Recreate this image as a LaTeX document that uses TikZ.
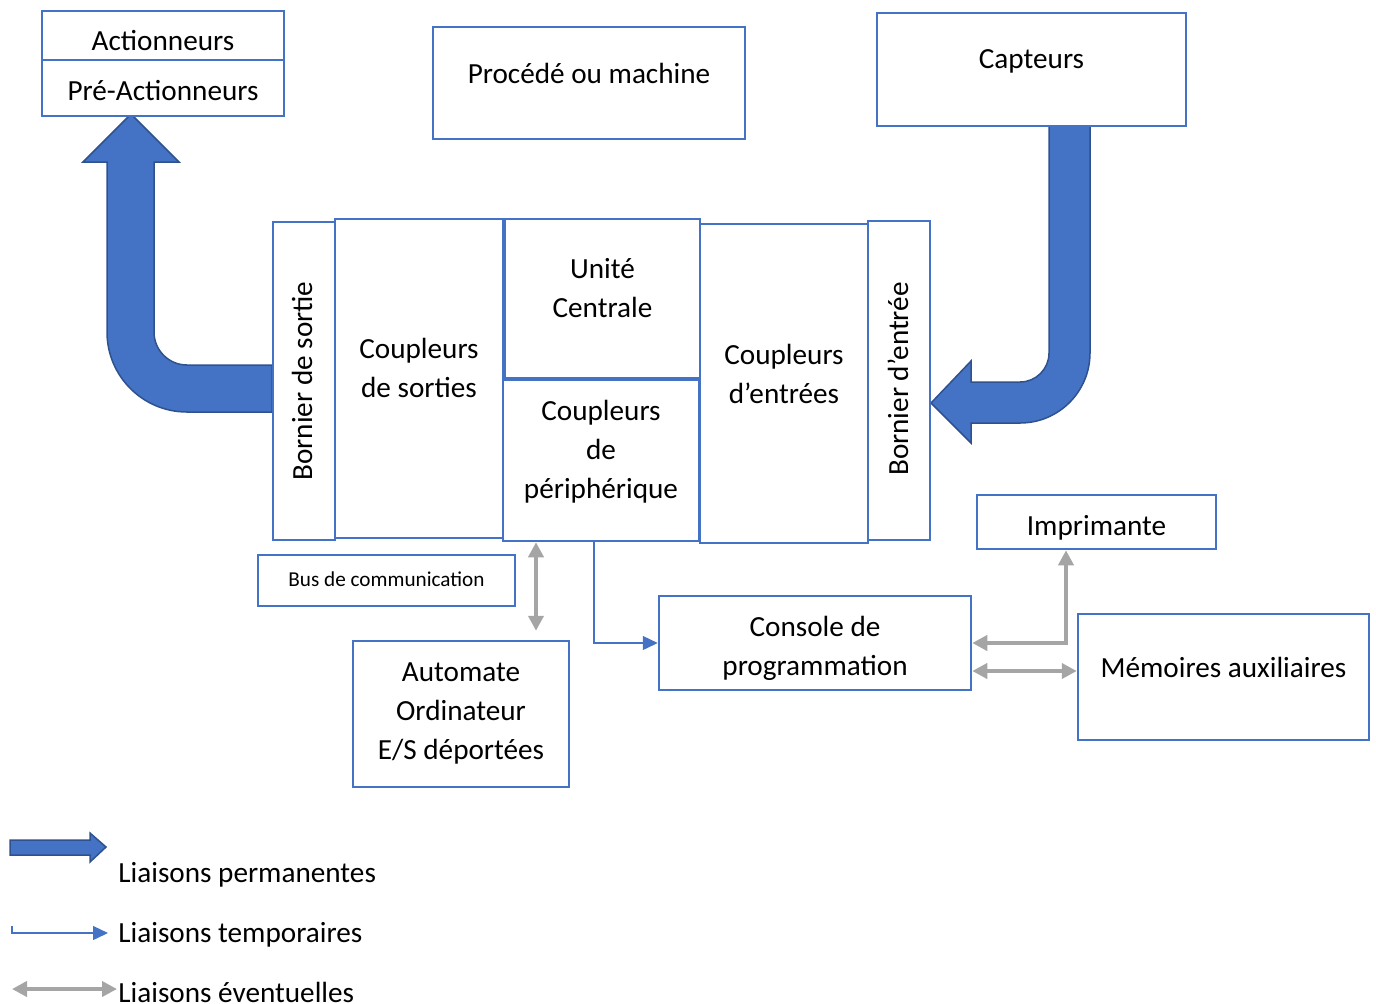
\documentclass[tikz,border=0pt]{standalone}
\usepackage{fontspec}
\setmainfont{Carlito}
\usetikzlibrary{arrows.meta}

\definecolor{accent}{HTML}{4472C4}
\definecolor{accentdark}{HTML}{2F528F}
\definecolor{linkgray}{HTML}{A5A5A5}

\tikzset{
  box/.style={draw=accent, line width=1.25pt, inner sep=0pt, fill=white},
  lbl/.style={font=\fontsize{14.6pt}{19.5pt}\selectfont, align=center, inner sep=0pt},
  small/.style={font=\fontsize{10.6pt}{13pt}\selectfont, inner sep=0pt},
  bigarrow/.style={fill=accent, draw=accentdark, line width=0.75pt, line join=miter},
  tempo/.style={draw=accent, line width=0.65pt, -{Triangle[width=7pt,length=7.5pt]}, color=accent},
  eventual/.style={draw=linkgray, line width=2.4pt, {Triangle[width=7.5pt,length=7.5pt]}-{Triangle[width=7.5pt,length=7.5pt]}}
}

\begin{document}
\begin{tikzpicture}[x=0.5pt, y=0.5pt]
\useasboundingbox (0,0) rectangle (1376,-1003);

% permanent links (drawn first, boxes on top)
\path[bigarrow] (272,-365) -- (187,-365) arc[start angle=270, end angle=180, radius=33]
  -- (154,-162) -- (179,-162) -- (131,-114) -- (83,-162) -- (107,-162) -- (107,-332)
  arc[start angle=180, end angle=270, radius=80] -- (272,-412) -- cycle;
\path[bigarrow] (1049,-126) -- (1049,-353) arc[start angle=0, end angle=-90, radius=29]
  -- (971,-382) -- (971,-361) -- (931,-403) -- (971,-443) -- (971,-423) -- (1020,-423)
  arc[start angle=-90, end angle=0, radius=70] -- (1090,-126) -- cycle;

% top row
\node[box, minimum width=121pt, minimum height=24.5pt] (act) at (163,-35.5) {};
\node[lbl] (act-t) at (163,-41) {Actionneurs};
\node[box, minimum width=121pt, minimum height=28pt] (pre) at (163,-88) {};
\node[lbl] (pre-t) at (163,-91) {Pré-Actionneurs};
\node[box, minimum width=156pt, minimum height=56pt] (proc) at (589,-83) {};
\node[lbl] (proc-t) at (589,-73) {Procédé ou machine};
\node[box, minimum width=154.5pt, minimum height=56.5pt] (cap) at (1031.5,-69.5) {};
\node[lbl] (cap-t) at (1031.5,-61) {Capteurs};

% automate
\node[box, minimum width=31pt, minimum height=159pt] (bs) at (304,-381) {};
\node[lbl, rotate=90] (bs-t) at (302,-381) {Bornier de sortie};
\node[box, minimum width=84pt, minimum height=159.5pt] (cs) at (419,-378.5) {};
\node[lbl] (cs-t) at (419,-367.5) {Coupleurs\\de sorties};
\node[box, minimum width=97.5pt, minimum height=79.5pt] (uc) at (602.5,-298.5) {};
\node[lbl] (uc-t) at (602.5,-288.5) {Unité\\Centrale};
\node[box, minimum width=98pt, minimum height=80.5pt] (cp) at (601,-460.5) {};
\node[lbl] (cp-t) at (601,-452) {Coupleurs\\de\\périphérique};
\node[box, minimum width=84pt, minimum height=159.5pt] (ce) at (784,-383.5) {};
\node[lbl] (ce-t) at (784,-373.5) {Coupleurs\\d’entrées};
\node[box, minimum width=31pt, minimum height=159.5pt] (be) at (899,-380.5) {};
\node[lbl, rotate=90] (be-t) at (898,-379) {Bornier d’entrée};

% peripherals
\node[box, minimum width=119.5pt, minimum height=27pt] (imp) at (1096.5,-522) {};
\node[lbl] (imp-t) at (1096.5,-528) {Imprimante};
\node[box, minimum width=128.5pt, minimum height=25.5pt] (bus) at (386.5,-580.5) {};
\node[small] (bus-t) at (386.5,-579) {Bus de communication};
\node[box, minimum width=108pt, minimum height=73pt] (aut) at (461,-714) {};
\node[lbl] (aut-t) at (461,-713.5) {Automate\\Ordinateur\\E/S déportées};
\node[box, minimum width=156pt, minimum height=47pt] (con) at (815,-643) {};
\node[lbl] (con-t) at (815,-648) {Console de\\programmation};
\node[box, minimum width=145.5pt, minimum height=63pt] (mem) at (1223.5,-677) {};
\node[lbl] (mem-t) at (1223.5,-667) {Mémoires auxiliaires};

% links
\draw[eventual, shorten >=4.5pt] (cp.south -| 536,0) -- (aut.north -| 536,0);
\draw[tempo] (cp.south -| 594,0) |- (con.west);
\draw[eventual] (imp.south -| 1066,0) |- (con.east);
\draw[eventual] (con.east |- 0,-671) -- (mem.west |- 0,-671);

% legend
\path[bigarrow] (10,-840) -- (90,-840) -- (90,-833) -- (106,-847) -- (90,-862) -- (90,-855) -- (10,-855) -- cycle;
\node[lbl, anchor=west] (leg1) at (118,-875) {Liaisons permanentes};
\coordinate (t0) at (12,-926);
\coordinate (t1) at (108,-933);
\draw[tempo] (t0) |- (t1);
\node[lbl, anchor=west] (leg2) at (118,-935) {Liaisons temporaires};
\coordinate (e0) at (12,-989);
\coordinate (e1) at (117,-989);
\draw[eventual] (e0) -- (e1);
\node[lbl, anchor=west] (leg3) at (118,-992) {Liaisons éventuelles};
\end{tikzpicture}
\end{document}
